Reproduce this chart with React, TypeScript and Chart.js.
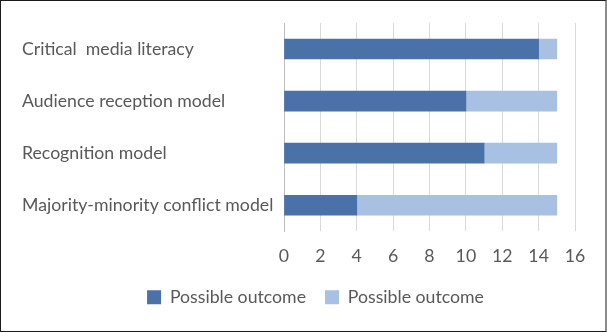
import React, { useEffect, useRef } from "react";
import { Chart, registerables } from "chart.js";

Chart.register(...registerables);

const categories = [
  "Critical  media literacy",
  "Audience reception model",
  "Recognition model",
  "Majority-minority conflict model",
];
const seriesA = [14, 10, 11, 4];
const seriesB = [1, 5, 4, 11];
const seriesNames = ["Possible outcome", "Possible outcome"];
const xTicks = [0, 2, 4, 6, 8, 10, 12, 14, 16];

const FONT = "Lato, sans-serif";
const TEXT = "#595959";
const FS = 17.7;

const legendShift = {
  id: "legendShift",
  afterLayout(chart: any) {
    const lg = chart.legend;
    if (lg) {
      lg.left += 17;
      lg.right += 17;
    }
  },
};

export default function App() {
  const ref = useRef<HTMLCanvasElement | null>(null);

  useEffect(() => {
    document.body.style.margin = "0";
    const canvas = ref.current;
    if (!canvas) return;
    const chart = new Chart(canvas, {
      type: "bar",
      data: {
        labels: categories,
        datasets: [
          {
            label: seriesNames[0],
            data: seriesA,
            backgroundColor: "#4a72a9",
            barThickness: 20,
          },
          {
            label: seriesNames[1],
            data: seriesB,
            backgroundColor: "#a8c0e1",
            barThickness: 20,
          },
        ],
      },
      options: {
        indexAxis: "y",
        responsive: false,
        animation: false,
        layout: { padding: { left: 22, right: 32, top: 23, bottom: 16 } },
        scales: {
          x: {
            stacked: true,
            min: 0,
            max: 16,
            afterBuildTicks: (scale: any) => {
              scale.ticks = xTicks.map((v) => ({ value: v }));
            },
            afterFit: (scale: any) => {
              scale.height = 38;
            },
            grid: { color: "#d9d9d9", drawTicks: false },
            border: { display: false },
            ticks: {
              padding: 14,
              color: TEXT,
              font: { family: FONT, size: FS },
            },
          },
          y: {
            stacked: true,
            afterFit: (scale: any) => {
              scale.width = 262;
            },
            grid: { display: false, drawTicks: false },
            border: { display: true, color: "#bfbfbf" },
            ticks: {
              padding: 11,
              crossAlign: "far",
              color: TEXT,
              font: { family: FONT, size: FS },
            },
          },
        },
        plugins: {
          legend: {
            position: "bottom",
            labels: {
              boxWidth: 14,
              boxHeight: 14,
              padding: 19,
              color: TEXT,
              font: { family: FONT, size: FS },
            },
          },
          tooltip: { enabled: false },
        },
      },
      plugins: [legendShift],
    });
    return () => chart.destroy();
  }, []);

  return (
    <div style={{ position: "relative", width: 607, height: 332, background: "#fff" }}>
      <canvas ref={ref} width={607} height={332} style={{ display: "block" }} />
      <div
        style={{
          position: "absolute",
          left: 0,
          top: 0,
          width: 607,
          height: 332,
          boxSizing: "border-box",
          border: "1px solid #1a1a1a",
          borderRight: "2px solid #8c8c8c",
          pointerEvents: "none",
        }}
      />
    </div>
  );
}
